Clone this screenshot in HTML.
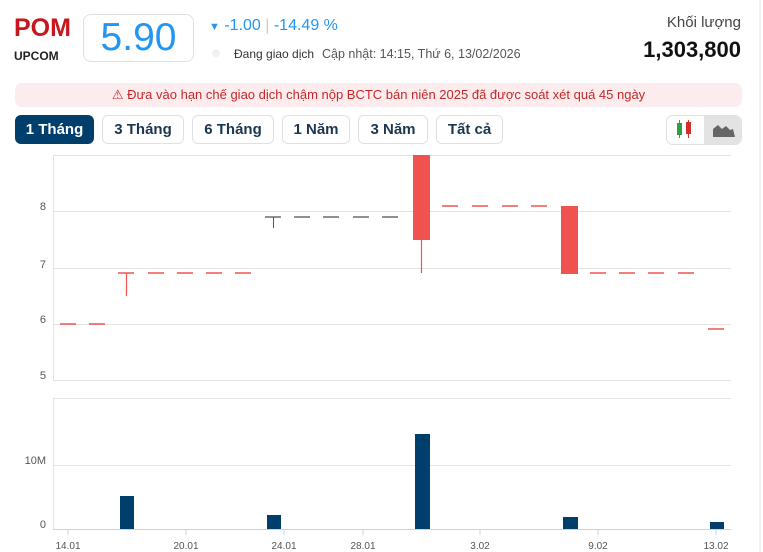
<!DOCTYPE html>
<html><head><meta charset="utf-8"><style>
body{margin:0;width:763px;height:552px;background:#fff;font-family:"Liberation Sans",sans-serif;position:relative;overflow:hidden}
.a{position:absolute;white-space:nowrap}
.btn{position:absolute;top:115px;height:29px;border:1px solid #dde1e6;border-radius:6px;box-sizing:border-box;font-size:15px;font-weight:bold;color:#1c3550;display:flex;align-items:center;justify-content:center}
</style></head><body>
<div class="a" style="left:14px;top:14px;font-size:25px;font-weight:bold;color:#c8161d">POM</div>
<div class="a" style="left:14px;top:49px;font-size:12px;font-weight:bold;color:#222">UPCOM</div>
<div class="a" style="left:83px;top:14px;width:111px;height:48px;border:1px solid #dde1e6;border-radius:8px;box-sizing:border-box;font-size:39px;color:#2196f3;text-align:center;line-height:46px">5.90</div>
<div class="a" style="left:209px;top:17px;font-size:16px;color:#2196f3"><span style="font-size:11px">▼</span> -1.00 <span style="color:#ccc">|</span> -14.49 %</div>
<div class="a" style="left:212px;top:49px;width:8px;height:8px;border-radius:50%;background:#eef1f5"></div>
<div class="a" style="left:234px;top:47px;font-size:12px;color:#333">Đang giao dịch</div>
<div class="a" style="left:322px;top:47px;font-size:12.5px;color:#555">Cập nhật: 14:15, Thứ 6, 13/02/2026</div>
<div class="a" style="right:22px;top:14px;font-size:15px;color:#444">Khối lượng</div>
<div class="a" style="right:22px;top:37px;font-size:22px;font-weight:bold;color:#111">1,303,800</div>
<div class="a" style="left:15px;top:83px;width:727px;height:24px;background:#fdecee;border-radius:7px;font-size:13px;color:#c62828;text-align:center;line-height:24px">⚠ Đưa vào hạn chế giao dịch chậm nộp BCTC bán niên 2025 đã được soát xét quá 45 ngày</div>
<div class="btn" style="left:15px;width:79px;background:#003f6b;color:#fff;border-color:#003f6b">1 Tháng</div>
<div class="btn" style="left:102px;width:82px">3 Tháng</div>
<div class="btn" style="left:192px;width:82px">6 Tháng</div>
<div class="btn" style="left:282px;width:68px">1 Năm</div>
<div class="btn" style="left:358px;width:70px">3 Năm</div>
<div class="btn" style="left:436px;width:67px">Tất cả</div>
<div class="a" style="left:666px;top:115px;width:76px;height:30px;border:1px solid #dde1e6;border-radius:7px;box-sizing:border-box;overflow:hidden">
<div style="position:absolute;left:37px;top:0;width:39px;height:30px;background:#e3e3e3"></div>
<div style="position:absolute;left:12px;top:4px;width:1px;height:18px;background:#2ea043"></div>
<div style="position:absolute;left:10px;top:7px;width:5px;height:12px;background:#2ea043"></div>
<div style="position:absolute;left:21px;top:4px;width:1px;height:18px;background:#d32f2f"></div>
<div style="position:absolute;left:19px;top:6px;width:5px;height:12px;background:#d32f2f"></div>
<svg style="position:absolute;left:46px;top:7px" width="22" height="14"><path d="M0 14 L0 6 L5 2 L9 6 L13 3 L17 7 L20 6 L22 14Z" fill="#666"/></svg>
</div>
<svg class="a" style="left:0;top:0" width="763" height="552">
<line x1="760" y1="0" x2="760" y2="552" stroke="#e6e6e6"/>
<g stroke="#e3e3e3" stroke-width="1">
<line x1="53" y1="155.5" x2="731" y2="155.5"/><line x1="53" y1="211.5" x2="731" y2="211.5"/><line x1="53" y1="268.5" x2="731" y2="268.5"/><line x1="53" y1="324.5" x2="731" y2="324.5"/><line x1="53" y1="380.5" x2="731" y2="380.5"/>
<line x1="53" y1="398.5" x2="731" y2="398.5"/><line x1="53" y1="465.5" x2="731" y2="465.5"/>
<line x1="53.5" y1="155" x2="53.5" y2="380"/><line x1="53.5" y1="398" x2="53.5" y2="529"/>
</g>
<line x1="53" y1="529.5" x2="731" y2="529.5" stroke="#c8d3e3"/>
<g stroke="#c8d3e3"><line x1="68" y1="529" x2="68" y2="535"/><line x1="186" y1="529" x2="186" y2="535"/><line x1="284" y1="529" x2="284" y2="535"/><line x1="363" y1="529" x2="363" y2="535"/><line x1="480" y1="529" x2="480" y2="535"/><line x1="598" y1="529" x2="598" y2="535"/><line x1="716" y1="529" x2="716" y2="535"/></g>
<g font-size="11" fill="#555" font-family="Liberation Sans">
<text x="46" y="210" text-anchor="end">8</text><text x="46" y="268" text-anchor="end">7</text><text x="46" y="323" text-anchor="end">6</text><text x="46" y="379" text-anchor="end">5</text>
<text x="46" y="464" text-anchor="end">10M</text><text x="46" y="528" text-anchor="end">0</text>
<g text-anchor="middle" font-size="10"><text x="68" y="549">14.01</text><text x="186" y="549">20.01</text><text x="284" y="549">24.01</text><text x="363" y="549">28.01</text><text x="480" y="549">3.02</text><text x="598" y="549">9.02</text><text x="716" y="549">13.02</text></g>
</g>
<g stroke="#ef5350" stroke-width="1.5">
<line x1="60" y1="324" x2="76" y2="324"/><line x1="89" y1="324" x2="105" y2="324"/>
<line x1="118" y1="273" x2="134" y2="273"/><line x1="148" y1="273" x2="164" y2="273"/><line x1="177" y1="273" x2="193" y2="273"/><line x1="206" y1="273" x2="222" y2="273"/><line x1="235" y1="273" x2="251" y2="273"/>
<line x1="442" y1="206" x2="458" y2="206"/><line x1="472" y1="206" x2="488" y2="206"/><line x1="502" y1="206" x2="518" y2="206"/><line x1="531" y1="206" x2="547" y2="206"/>
<line x1="590" y1="273" x2="606" y2="273"/><line x1="619" y1="273" x2="635" y2="273"/><line x1="648" y1="273" x2="664" y2="273"/><line x1="678" y1="273" x2="694" y2="273"/>
<line x1="708" y1="329" x2="724" y2="329"/>
</g>
<g stroke="#ef5350" stroke-width="1.2"><line x1="126.5" y1="273" x2="126.5" y2="296"/><line x1="421.5" y1="240" x2="421.5" y2="273"/></g>
<g stroke="#555" stroke-width="1.3">
<line x1="265" y1="217" x2="281" y2="217"/><line x1="294" y1="217" x2="310" y2="217"/><line x1="323" y1="217" x2="339" y2="217"/><line x1="353" y1="217" x2="369" y2="217"/><line x1="382" y1="217" x2="398" y2="217"/>
<line x1="273.5" y1="217" x2="273.5" y2="228" stroke-width="1"/></g>
<rect x="413" y="155" width="17" height="85" fill="#ef5350"/>
<rect x="561" y="206" width="17" height="68" fill="#ef5350"/>
<g fill="#003f6b">
<rect x="120" y="496" width="14" height="33"/><rect x="267" y="515" width="14" height="14"/><rect x="415" y="434" width="15" height="95"/><rect x="563" y="517" width="15" height="12"/><rect x="710" y="522" width="14" height="7"/>
</g>
</svg>
</body></html>
